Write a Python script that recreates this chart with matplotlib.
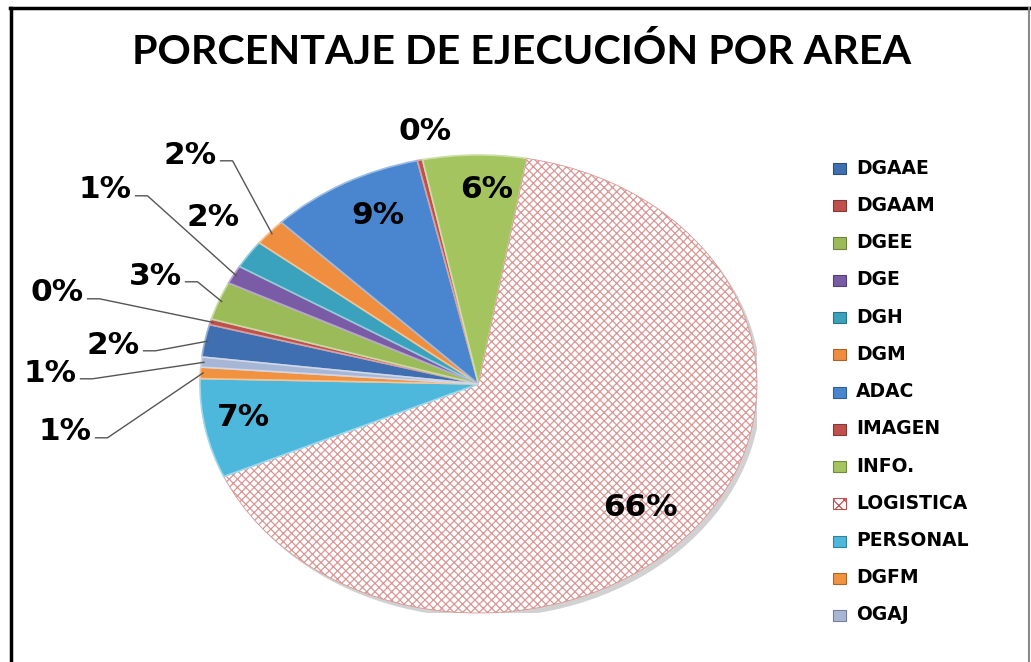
import matplotlib
matplotlib.use('Agg')
import matplotlib.pyplot as plt
from matplotlib.patches import Rectangle, Ellipse
from matplotlib.lines import Line2D
from matplotlib.transforms import IdentityTransform
from matplotlib import font_manager
import matplotlib.colors as mcolors
import numpy as np

# ---- data ----
title = "PORCENTAJE DE EJECUCIÓN POR AREA"
categories = ["DGAAE", "DGAAM", "DGEE", "DGE", "DGH", "DGM", "ADAC",
              "IMAGEN", "INFO.", "LOGISTICA", "PERSONAL", "DGFM", "OGAJ"]
values = [2.3, 0.4, 2.7, 1.3, 2.0, 1.9, 9.0, 0.3, 6.0, 65.6, 7.0, 0.8, 0.7]
colors = ["#3F6FB0", "#C0504D", "#9BBB59", "#7A5BA6", "#3AA2BC", "#EE8E3E",
          "#4A86D0", "#C0504D", "#A3C45E", "#FFFFFF", "#4DB8DC", "#F0923F",
          "#A8B6D6"]

# ---- layout (pixels, from top-left) ----
W, H = 1031, 662
fig = plt.figure(figsize=(W / 100, H / 100), dpi=100)
fig.patch.set_facecolor("white")

def fx(x):
    return x / W

def fy(y):
    return 1 - y / H

plt.rcParams['hatch.linewidth'] = 0.9

installed = {f.name for f in font_manager.fontManager.ttflist}
title_family = "Liberation Sans Narrow" if "Liberation Sans Narrow" in installed else "Lato"

# pie axes: ellipse spanning x 200..757, y 155..613
ax = fig.add_axes([fx(200), fy(613), fx(757) - fx(200), fy(155) - fy(613)])
total = sum(values)
start = 80 + sum(values[:9]) / total * 360

# soft shadow
ax.add_patch(Ellipse((0.015, -0.02), 2.0, 2.0, facecolor="#000000", alpha=0.18,
                     edgecolor="none", zorder=0))

wedges, _ = ax.pie(values, colors=colors, startangle=start, counterclock=False,
                   radius=1, wedgeprops=dict(linewidth=1.2))
for w, c in zip(wedges, colors):
    if c.upper() == "#FFFFFF":
        w.set_hatch("xxxx")
        w.set_edgecolor("#D99694")
        w.set_linewidth(0.6)
    else:
        rgb = np.array(mcolors.to_rgb(c))
        w.set_edgecolor(tuple(rgb * 0.55 + 0.45))
    w.set_zorder(2)
ax.set_aspect('auto')
ax.set_xlim(-1, 1)
ax.set_ylim(-1, 1)
ax.axis('off')

# data labels (positions in pixels) and whether they need a leader line
label_pos = [(113, 345), (57, 293), (155, 276), (105, 190), (213, 218),
             (190, 155), (378, 215), (425, 132), (487, 190), (640, 508),
             (243, 418), (65, 432), (50, 373)]
leader = [True, True, True, True, False, True, False, False, False, False,
          False, True, True]

texts = []
for v, (px, py) in zip(values, label_pos):
    t = fig.text(fx(px), fy(py), f"{v / total * 100:.0f}%", ha="center",
                 va="center", fontsize=22.5, fontweight="bold",
                 family="DejaVu Sans", color="black", zorder=5)
    texts.append(t)

# title
tt = fig.text(fx(522), fy(52), title, ha="center", va="center",
              fontsize=38, fontweight="bold", family=title_family)

fig.canvas.draw()
r = fig.canvas.get_renderer()
tw = tt.get_window_extent(r).width
tt.set_fontsize(38 * 779 / tw)

# leader lines
fig.canvas.draw()
for w, t, need in zip(wedges, texts, leader):
    if not need:
        continue
    bb = t.get_window_extent(r)
    mid = np.deg2rad((w.theta1 + w.theta2) / 2)
    ex, ey = ax.transData.transform((0.99 * np.cos(mid), 0.99 * np.sin(mid)))
    sx = bb.x1 + 4
    sy = bb.y0 + bb.height * 0.3
    fig.add_artist(Line2D([sx, sx + 12, ex], [sy, sy, ey], color="#555555",
                          lw=1.0, transform=IdentityTransform(), zorder=4))

# legend (manual)
leg_y0, leg_dy = 168, 37.25
for i, (cat, c) in enumerate(zip(categories, colors)):
    y = leg_y0 + i * leg_dy
    rect = Rectangle((fx(833), fy(y + 6)), fx(846) - fx(833), fy(y - 5) - fy(y + 6),
                     transform=fig.transFigure, facecolor=c, zorder=3,
                     edgecolor=tuple(np.array(mcolors.to_rgb(c)) * 0.7) if c.upper() != "#FFFFFF" else "#C0504D",
                     lw=0.8)
    if c.upper() == "#FFFFFF":
        rect.set_hatch("xxx")
    fig.add_artist(rect)
    fig.text(fx(856), fy(y), cat, ha="left", va="center", fontsize=13.5,
             fontweight="bold", family="DejaVu Sans")

# outer frame
fig.add_artist(Line2D([fx(10), fx(1029)], [fy(8), fy(8)], color="black", lw=2.5,
                      transform=fig.transFigure))
fig.add_artist(Line2D([fx(11), fx(11)], [fy(8), 0], color="black", lw=2.5,
                      transform=fig.transFigure))
fig.add_artist(Line2D([fx(1028.5), fx(1028.5)], [fy(8), 0], color="#888888", lw=1.5,
                      transform=fig.transFigure))

fig.savefig("out.png", dpi=100)
